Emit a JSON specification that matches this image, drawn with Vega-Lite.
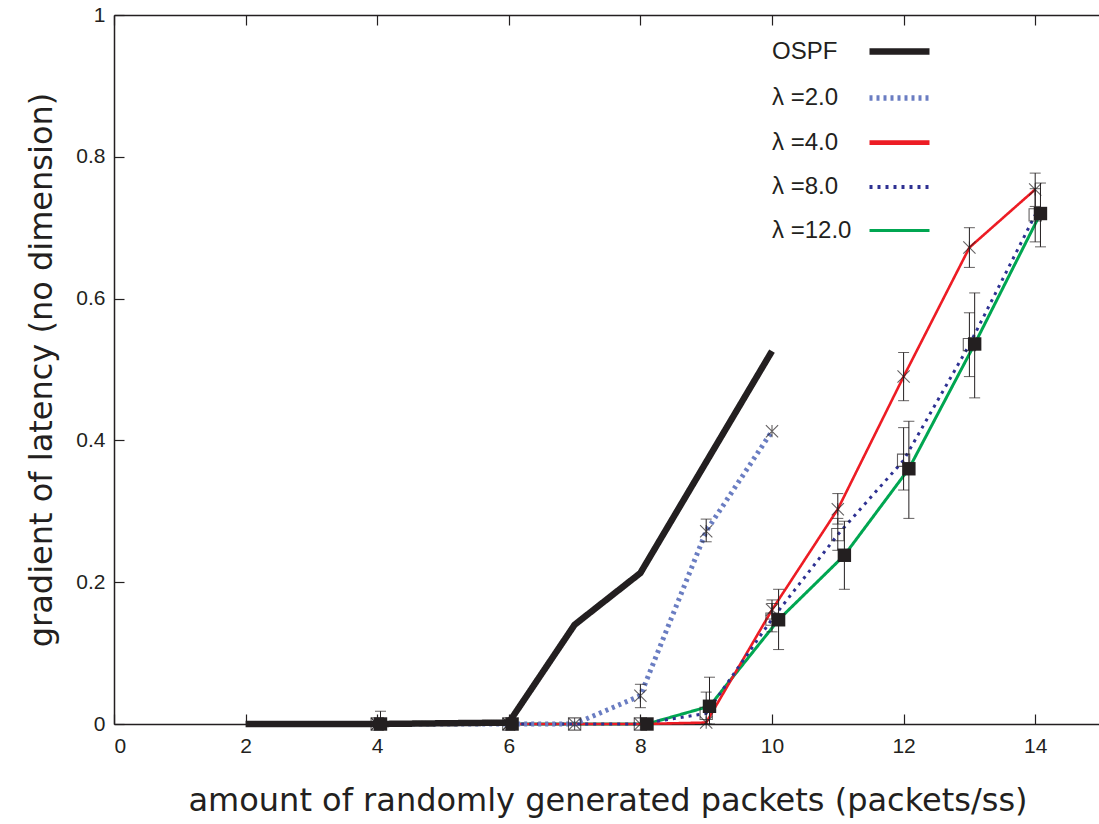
{
  "$schema": "https://vega.github.io/schema/vega-lite/v6.json",
  "width": 987,
  "height": 709,
  "autosize": "none",
  "padding": {"left": 114, "top": 15, "right": 0, "bottom": 100},
  "background": "white",
  "config": {
    "view": {"stroke": null},
    "axis": {
      "grid": false,
      "domainColor": "#231f20",
      "domainWidth": 1.5,
      "tickColor": "#231f20",
      "tickWidth": 1.2,
      "tickSize": -10,
      "labelFont": "Liberation Sans",
      "labelFontSize": 21,
      "labelColor": "#231f20",
      "titleFont": "DejaVu Sans",
      "titleFontSize": 32,
      "titleFontWeight": "normal",
      "titleColor": "#231f20"
    }
  },
  "data": {
    "values": [
      {"s": "OSPF", "x": 2, "y": 0},
      {"s": "OSPF", "x": 4, "y": 0},
      {"s": "OSPF", "x": 6, "y": 0.002},
      {"s": "OSPF", "x": 7, "y": 0.14},
      {"s": "OSPF", "x": 8, "y": 0.213},
      {"s": "OSPF", "x": 10, "y": 0.526},
      {"s": "λ =2.0", "x": 4, "y": 0},
      {"s": "λ =2.0", "x": 6, "y": 0},
      {"s": "λ =2.0", "x": 7, "y": 0},
      {"s": "λ =2.0", "x": 8, "y": 0.04, "lo": 0.023, "hi": 0.056},
      {"s": "λ =2.0", "x": 9, "y": 0.272, "lo": 0.257, "hi": 0.289},
      {"s": "λ =2.0", "x": 10, "y": 0.413},
      {"s": "λ =4.0", "x": 4, "y": 0},
      {"s": "λ =4.0", "x": 6, "y": 0},
      {"s": "λ =4.0", "x": 8, "y": 0},
      {"s": "λ =4.0", "x": 9, "y": 0.002},
      {"s": "λ =4.0", "x": 10, "y": 0.161, "lo": 0.148, "hi": 0.175},
      {"s": "λ =4.0", "x": 11, "y": 0.303, "lo": 0.282, "hi": 0.325},
      {"s": "λ =4.0", "x": 12, "y": 0.49, "lo": 0.456, "hi": 0.524},
      {"s": "λ =4.0", "x": 13, "y": 0.672, "lo": 0.644, "hi": 0.7},
      {"s": "λ =4.0", "x": 14, "y": 0.754, "lo": 0.73, "hi": 0.777},
      {"s": "λ =8.0", "x": 4, "y": 0},
      {"s": "λ =8.0", "x": 6, "y": 0},
      {"s": "λ =8.0", "x": 7, "y": 0},
      {"s": "λ =8.0", "x": 8, "y": 0},
      {"s": "λ =8.0", "x": 9, "y": 0.015, "lo": 0, "hi": 0.045},
      {"s": "λ =8.0", "x": 10, "y": 0.148, "lo": 0.13, "hi": 0.17},
      {"s": "λ =8.0", "x": 11, "y": 0.267, "lo": 0.245, "hi": 0.29},
      {"s": "λ =8.0", "x": 12, "y": 0.372, "lo": 0.33, "hi": 0.418},
      {"s": "λ =8.0", "x": 13, "y": 0.535, "lo": 0.49, "hi": 0.58},
      {"s": "λ =8.0", "x": 14, "y": 0.718, "lo": 0.68, "hi": 0.755},
      {"s": "λ =12.0", "x": 4.05, "y": 0, "lo": 0, "hi": 0.018},
      {"s": "λ =12.0", "x": 6.05, "y": 0},
      {"s": "λ =12.0", "x": 8.1, "y": 0},
      {"s": "λ =12.0", "x": 9.05, "y": 0.025, "lo": 0, "hi": 0.066},
      {"s": "λ =12.0", "x": 10.1, "y": 0.147, "lo": 0.105, "hi": 0.19},
      {"s": "λ =12.0", "x": 11.1, "y": 0.238, "lo": 0.19, "hi": 0.286},
      {"s": "λ =12.0", "x": 12.08, "y": 0.36, "lo": 0.29, "hi": 0.427},
      {"s": "λ =12.0", "x": 13.08, "y": 0.536, "lo": 0.46, "hi": 0.608},
      {"s": "λ =12.0", "x": 14.08, "y": 0.72, "lo": 0.673, "hi": 0.763}
    ]
  },
  "resolve": {"axis": {"x": "independent"}},
  "layer": [
    {
      "layer": [
        {
          "transform": [{"filter": "datum.s === 'λ =12.0'"}],
          "mark": {"type": "line"},
          "encoding": {
            "color": {"field": "s", "type": "nominal", "scale": {"domain": ["OSPF", "λ =2.0", "λ =4.0", "λ =8.0", "λ =12.0"], "range": ["#231f20", "#6a7dc2", "#ed1c24", "#2e3192", "#00a651"]},
              "legend": {"orient": "none", "legendX": 752, "legendY": 3, "title": null, "labelFont": "Liberation Sans", "labelFontSize": 24, "labelColor": "#231f20", "symbolType": "stroke", "symbolSize": 3600, "rowPadding": -15, "labelOffset": -161, "labelAlign": "left", "padding": 0,
                "encode": {"symbols": {"update": {"strokeWidth": {"signal": "datum.value === 'OSPF' ? 6.5 : datum.value === 'λ =2.0' ? 5 : datum.value === 'λ =4.0' ? 2.6 : 3"}}}}}},
            "strokeDash": {"field": "s", "type": "nominal", "scale": {"domain": ["OSPF", "λ =2.0", "λ =4.0", "λ =8.0", "λ =12.0"], "range": [[1, 0], [3, 4], [1, 0], [3, 5], [1, 0]]}},
            "strokeWidth": {"field": "s", "type": "nominal", "scale": {"domain": ["OSPF", "λ =2.0", "λ =4.0", "λ =8.0", "λ =12.0"], "range": [6.5, 3]}}
          }
        },
        {
          "transform": [{"filter": "datum.s === 'λ =4.0'"}],
          "mark": {"type": "line", "strokeWidth": 2.6},
          "encoding": {
            "color": {"field": "s", "type": "nominal"},
            "strokeDash": {"field": "s", "type": "nominal"}
          }
        },
        {
          "transform": [{"filter": "datum.s === 'λ =8.0'"}],
          "mark": {"type": "line", "strokeWidth": 3},
          "encoding": {
            "color": {"field": "s", "type": "nominal"},
            "strokeDash": {"field": "s", "type": "nominal"}
          }
        },
        {
          "transform": [{"filter": "datum.s === 'λ =2.0'"}],
          "mark": {"type": "line", "strokeWidth": 5},
          "encoding": {
            "color": {"field": "s", "type": "nominal"},
            "strokeDash": {"field": "s", "type": "nominal"}
          }
        },
        {
          "transform": [{"filter": "datum.s === 'OSPF'"}],
          "mark": {"type": "line", "strokeWidth": 6.5},
          "encoding": {
            "color": {"field": "s", "type": "nominal"},
            "strokeDash": {"field": "s", "type": "nominal"}
          }
        },
        {
          "transform": [{"filter": "isValid(datum.lo)"}],
          "mark": {"type": "rule", "color": "#231f20", "strokeWidth": 1},
          "encoding": {"y": {"field": "lo", "type": "quantitative"}, "y2": {"field": "hi"}}
        },
        {
          "transform": [{"filter": "isValid(datum.lo)"}],
          "mark": {"type": "tick", "orient": "horizontal", "color": "#231f20", "size": 11, "thickness": 1},
          "encoding": {"y": {"field": "lo", "type": "quantitative"}}
        },
        {
          "transform": [{"filter": "isValid(datum.hi)"}],
          "mark": {"type": "tick", "orient": "horizontal", "color": "#231f20", "size": 11, "thickness": 1},
          "encoding": {"y": {"field": "hi", "type": "quantitative"}}
        },
        {
          "transform": [{"filter": "datum.s !== 'OSPF' && datum.s !== 'λ =12.0'"}],
          "mark": {"type": "point", "filled": false, "color": "#231f20", "strokeWidth": 1.1, "size": 150},
          "encoding": {
            "shape": {"field": "s", "type": "nominal", "legend": null,
              "scale": {"domain": ["λ =2.0", "λ =4.0", "λ =8.0"], "range": ["M-1,-1L1,1M-1,1L1,-1M0,-1L0,1", "M-1,-1L1,1M-1,1L1,-1M0,-1L0,1", "square"]}}
          }
        },
        {
          "transform": [{"filter": "datum.s === 'λ =12.0'"}],
          "mark": {"type": "point", "filled": true, "shape": "square", "color": "#231f20", "opacity": 1, "size": 180}
        }
      ],
      "encoding": {
        "x": {
          "field": "x", "type": "quantitative",
          "scale": {"domain": [0, 15], "nice": false, "zero": false},
          "axis": {
            "orient": "bottom",
            "values": [0, 2, 4, 6, 8, 10, 12, 14],
            "labelPadding": 21,
            "title": "amount of randomly generated packets (packets/ss)",
            "titlePadding": 29
          }
        },
        "y": {
          "field": "y", "type": "quantitative",
          "scale": {"domain": [0, 1], "nice": false},
          "axis": {
            "values": [0, 0.2, 0.4, 0.6, 0.8, 1],
            "format": "~g",
            "labelPadding": 19,
            "title": "gradient of latency (no dimension)",
            "titlePadding": 17
          }
        }
      }
    },
    {
      "data": {"values": [{"x": 0}]},
      "mark": {"type": "rule", "strokeWidth": 0},
      "encoding": {
        "x": {"field": "x", "type": "quantitative", "scale": {"domain": [0, 15], "nice": false, "zero": false},
          "axis": {"orient": "top", "labels": false, "title": null, "values": [0, 2, 4, 6, 8, 10, 12, 14], "domain": true}}
      }
    }
  ]
}
